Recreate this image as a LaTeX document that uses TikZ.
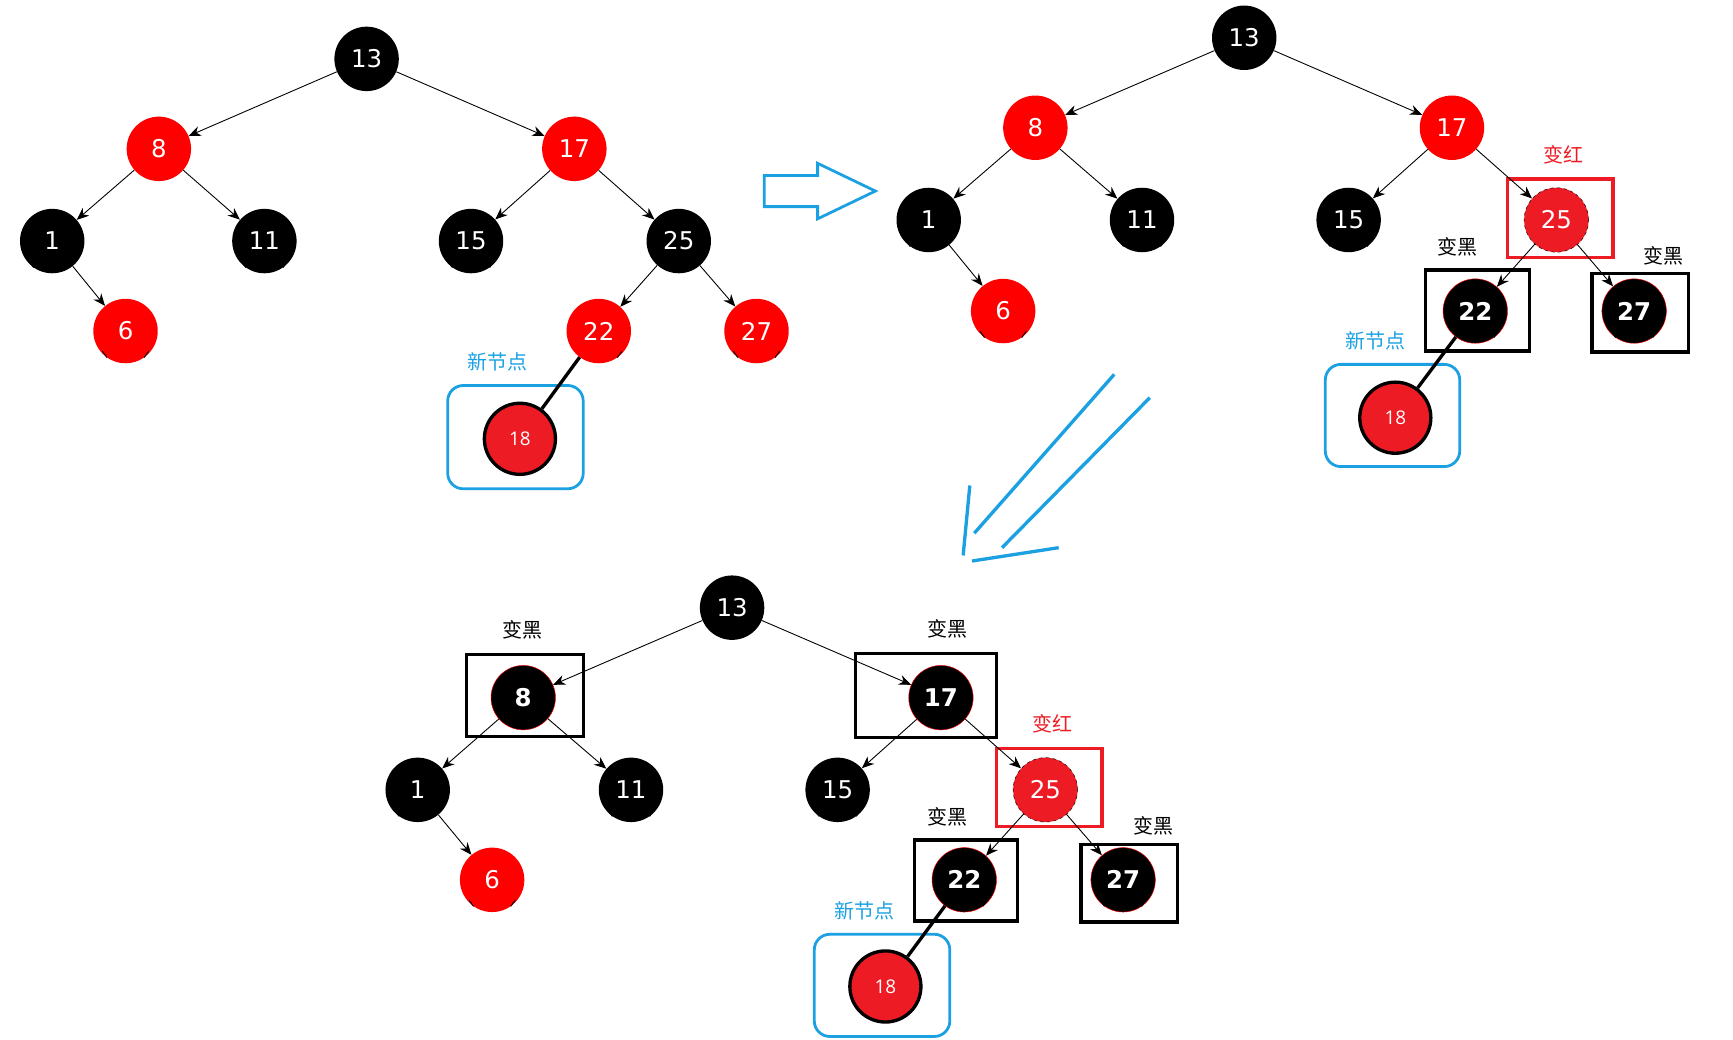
\documentclass[tikz,border=0pt]{standalone}
\usepackage{fontspec}
\setmainfont{DejaVu Sans}
\newfontfamily\cjk{Noto Sans CJK SC}
\newfontfamily\osans{Open Sans}
\usetikzlibrary{arrows.meta}
\definecolor{nred}{HTML}{ED1C24}
\definecolor{nblue}{HTML}{1BA1E2}
\tikzset{
  bn/.style={circle,fill=black,text=white,minimum size=58pt,inner sep=0pt,font=\fontsize{22}{22}\selectfont},
  rn/.style={bn,fill=red},
  cn/.style={bn,draw=red,thin,font=\fontsize{22}{22}\selectfont\bfseries},
  dn/.style={bn,fill=nred,draw=black,dashed,thin},
  nw/.style={circle,fill=nred,draw=black,line width=3pt,minimum size=64pt,inner sep=0pt,text=white,font=\osans\fontsize{17}{17}\selectfont},
  e/.style={-{Stealth[length=11pt,width=9pt]},line width=0.8pt},
  th/.style={line width=3pt},
  bbox/.style={draw=black,line width=3pt},
  rbox/.style={draw=nred,line width=3pt},
  bl/.style={draw=nblue,line width=2.5pt,rounded corners=14pt},
  lab/.style={font=\cjk\fontsize{18}{18}\selectfont},
  stub/.style={line width=0.8pt}
}
\begin{document}
\begin{tikzpicture}[x=1pt,y=-1pt]
\useasboundingbox (0,0) rectangle (1560,936);
% ---------- tree 1 ----------
\node[bn] (a13) at (330,53) {13};
\node[rn] (a8) at (143,134) {8};
\node[rn] (a17) at (517,134) {17};
\node[bn] (a1) at (47,217) {1};
\node[bn] (a11) at (238,217) {11};
\node[bn] (a15) at (424,217) {15};
\node[bn] (a25) at (611,217) {25};
\node[rn] (a6) at (113,298) {6};
\node[rn] (a22) at (539,298) {22};
\node[rn] (a27) at (681,298) {27};
\node[nw] (a18) at (468,395) {18};
\draw[bl] (403,347) rectangle (525,440);
\node[lab,text=nblue] (al) at (448,326) {新节点};
\foreach \p/\c in {a13/a8,a13/a17,a8/a1,a8/a11,a1/a6,a17/a15,a17/a25,a25/a22,a25/a27}
  \draw[e] (\p) -- (\c);
\draw[th] (a22) -- (a18);
% ---------- tree 2 ----------
\node[bn] (b13) at (1120,34) {13};
\node[rn] (b8) at (932,115) {8};
\node[rn] (b17) at (1307,115) {17};
\node[bn] (b1) at (836,198) {1};
\node[bn] (b11) at (1028,198) {11};
\node[bn] (b15) at (1214,198) {15};
\node[dn] (b25) at (1401,198) {25};
\node[rn] (b6) at (903,280) {6};
\node[cn] (b22) at (1328,280) {22};
\node[cn] (b27) at (1471,280) {27};
\node[nw] (b18) at (1256,376) {18};
\draw[rbox] (1357,161) rectangle (1452,232);
\draw[bbox] (1283,243) rectangle (1377,316);
\draw[bbox] (1433,246) rectangle (1520,317);
\draw[bl] (1193,328) rectangle (1314,420);
\node[lab,text=nred] (bl1) at (1407,139) {变红};
\node[lab] (bl2) at (1312,222) {变黑};
\node[lab] (bl3) at (1497,230) {变黑};
\node[lab,text=nblue] (bl4) at (1238,307) {新节点};
\foreach \p/\c in {b13/b8,b13/b17,b8/b1,b8/b11,b1/b6,b17/b15,b17/b25,b25/b22,b25/b27}
  \draw[e] (\p) -- (\c);
\draw[th] (b22) -- (b18);
% ---------- tree 3 ----------
\node[bn] (c13) at (659,547) {13};
\node[cn] (c8) at (471,628) {8};
\node[cn] (c17) at (847,628) {17};
\node[bn] (c1) at (376,711) {1};
\node[bn] (c11) at (568,711) {11};
\node[bn] (c15) at (754,711) {15};
\node[dn] (c25) at (941,711) {25};
\node[rn] (c6) at (443,792) {6};
\node[cn] (c22) at (868,792) {22};
\node[cn] (c27) at (1011,792) {27};
\node[nw] (c18) at (797,888) {18};
\draw[bbox] (420,589) rectangle (525,663);
\draw[bbox] (770,588) rectangle (897,664);
\draw[rbox] (897,674) rectangle (992,744);
\draw[bbox] (823,756) rectangle (916,829);
\draw[bbox] (973,760) rectangle (1060,830);
\draw[bl] (733,841) rectangle (855,933);
\node[lab] (cl1) at (470,567) {变黑};
\node[lab] (cl2) at (853,566) {变黑};
\node[lab,text=nred] (cl3) at (947,652) {变红};
\node[lab] (cl4) at (853,735) {变黑};
\node[lab] (cl5) at (1038,743) {变黑};
\node[lab,text=nblue] (cl6) at (778,820) {新节点};
\foreach \p/\c in {c13/c8,c13/c17,c8/c1,c8/c11,c1/c6,c17/c15,c17/c25,c25/c22,c25/c27}
  \draw[e] (\p) -- (\c);
\draw[th] (c22) -- (c18);
% ---------- nil stubs ----------
\foreach \n in {a1,b1,c1,a11,b11,c11,a15,b15,c15,a6,b6,c6,a27,b27,c27}
  \draw[stub] (\n.235) -- ++(235:7);
\foreach \n in {a11,b11,c11,a15,b15,c15,a6,b6,c6,a27,b27,c27,a22,b22,c22}
  \draw[stub] (\n.305) -- ++(305:7);
% ---------- transition arrows ----------
\draw[draw=nblue,line width=2.5pt,line join=miter]
  (688,158) -- (736,158) -- (736,147) -- (788,172) -- (736,197) -- (736,186) -- (688,186) -- cycle;
\draw[nblue,line width=3pt] (1003,337) -- (877,480);
\draw[nblue,line width=3pt] (1035,358) -- (902,493);
\draw[nblue,line width=3pt] (873,437) -- (867,500);
\draw[nblue,line width=3pt] (875,505) -- (953,493);
\end{tikzpicture}
\end{document}
